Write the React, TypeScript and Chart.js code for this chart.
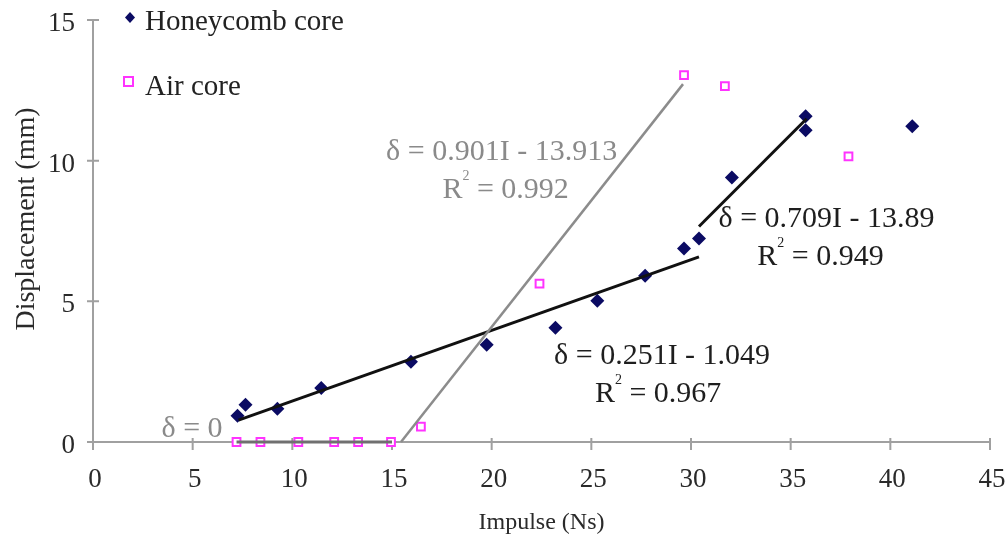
import React, { useEffect, useRef } from "react";
import { Chart, registerables } from "chart.js";

Chart.register(...registerables);

// ---- data ----
const xTickValues = [0, 5, 10, 15, 20, 25, 30, 35, 40, 45];
const yTickValues = [0, 5, 10, 15];

const honeycombImpulse = [7.25, 7.65, 9.25, 11.45, 15.95, 19.75, 23.2, 25.3, 27.7, 29.65, 30.4, 32.05, 35.75, 35.75, 41.1];
const honeycombDisp = [0.93, 1.32, 1.18, 1.92, 2.85, 3.46, 4.06, 5.02, 5.91, 6.88, 7.23, 9.4, 11.58, 11.08, 11.22];

const airImpulse = [7.2, 8.4, 10.3, 12.1, 13.3, 14.95, 16.45, 22.4, 29.65, 31.7, 37.9];
const airDisp = [0, 0, 0, 0, 0, 0, 0.55, 5.63, 13.04, 12.65, 10.15];

const fitAirImpulse = [15.45, 29.6];
const fitAirDisp = [0, 12.72];
const fitZeroImpulse = [7.2, 15.0];
const fitZeroDisp = [0, 0];
const fitHoney1Impulse = [7.3, 30.4];
const fitHoney1Disp = [0.78, 6.58];
const fitHoney2Impulse = [30.4, 35.8];
const fitHoney2Disp = [7.66, 11.49];

const seriesNames = ["Honeycomb core", "Air core"];
const xTitle = "Impulse (Ns)";
const yTitle = "Displacement (mm)";

const FONT = '"Liberation Serif", "Times New Roman", serif';
const NAVY = "#0b0b63";
const MAGENTA = "#ff33ff";
const GRAY_TEXT = "#8a8a8a";
const DARK_TEXT = "#1e1e1e";

const pts = (xs: number[], ys: number[]) => xs.map((x, i) => ({ x, y: ys[i] }));

const annotations = [
  { eq: "δ = 0.901I - 13.913", r2: "0.992", ex: 20.5, ey: 10.3, rx: 20.7, ry: 8.94, color: GRAY_TEXT },
  { eq: "δ = 0.709I - 13.89", r2: "0.949", ex: 36.8, ey: 7.92, rx: 36.5, ry: 6.56, color: DARK_TEXT },
  { eq: "δ = 0.251I - 1.049", r2: "0.967", ex: 28.55, ey: 3.06, rx: 28.35, ry: 1.71, color: DARK_TEXT },
];

const customPlugin = {
  id: "customAxes",
  beforeDatasetsDraw(chart: any) {
    const { ctx, scales } = chart;
    const xs = scales.x;
    const ys = scales.y;
    const x0 = xs.getPixelForValue(xTickValues[0]);
    const x1 = xs.getPixelForValue(xTickValues[xTickValues.length - 1]);
    const y0 = ys.getPixelForValue(yTickValues[0]);
    const y1 = ys.getPixelForValue(yTickValues[yTickValues.length - 1]);
    ctx.save();
    ctx.strokeStyle = "#a0a0a0";
    ctx.lineWidth = 2;
    ctx.beginPath();
    ctx.moveTo(x0, y1);
    ctx.lineTo(x0, y0);
    ctx.moveTo(x0, y0);
    ctx.lineTo(x1, y0);
    yTickValues.forEach((v) => {
      const py = ys.getPixelForValue(v);
      ctx.moveTo(x0 - 6, py);
      ctx.lineTo(x0 + 6, py);
    });
    xTickValues.forEach((v) => {
      const px = xs.getPixelForValue(v);
      ctx.moveTo(px, y0 - 4);
      ctx.lineTo(px, y0 + 8);
    });
    ctx.stroke();

    ctx.fillStyle = "#2a2a2a";
    ctx.font = `27px ${FONT}`;
    ctx.textBaseline = "middle";
    ctx.textAlign = "right";
    yTickValues.forEach((v) => {
      ctx.fillText(String(v), x0 - 18, ys.getPixelForValue(v) + 4);
    });
    ctx.textAlign = "center";
    xTickValues.forEach((v) => {
      ctx.fillText(String(v), xs.getPixelForValue(v) + 2, y0 + 38);
    });

    ctx.font = `24px ${FONT}`;
    ctx.fillText(xTitle, (x0 + x1) / 2, y0 + 81);
    ctx.save();
    ctx.font = `28px ${FONT}`;
    ctx.translate(27, 219);
    ctx.rotate(-Math.PI / 2);
    ctx.fillText(yTitle, 0, 0);
    ctx.restore();
    ctx.restore();
  },
  afterDraw(chart: any) {
    const { ctx, scales } = chart;
    const xs = scales.x;
    const ys = scales.y;
    const big = `30px ${FONT}`;
    const sup = `14px ${FONT}`;
    ctx.save();
    ctx.textBaseline = "middle";
    ctx.textAlign = "center";
    annotations.forEach((a) => {
      ctx.fillStyle = a.color;
      ctx.font = big;
      ctx.fillText(a.eq, xs.getPixelForValue(a.ex), ys.getPixelForValue(a.ey));
      const rx = xs.getPixelForValue(a.rx);
      const ry = ys.getPixelForValue(a.ry);
      const main = "R";
      const rest = " = " + a.r2;
      const wR = ctx.measureText(main).width;
      const wRest = ctx.measureText(rest).width;
      ctx.font = sup;
      const wSup = ctx.measureText("2").width;
      const total = wR + wSup + wRest;
      const left = rx - total / 2;
      ctx.textAlign = "left";
      ctx.font = big;
      ctx.fillText(main, left, ry);
      ctx.fillText(rest, left + wR + wSup, ry);
      ctx.font = sup;
      ctx.fillText("2", left + wR, ry - 14);
      ctx.textAlign = "center";
    });
    ctx.fillStyle = GRAY_TEXT;
    ctx.font = big;
    ctx.fillText("δ = 0", xs.getPixelForValue(4.97), ys.getPixelForValue(0.46));

    // legend
    ctx.textAlign = "left";
    ctx.fillStyle = "#222";
    ctx.font = `29px ${FONT}`;
    ctx.fillText(seriesNames[0], 145, 22);
    ctx.fillText(seriesNames[1], 145, 87);
    ctx.fillStyle = NAVY;
    ctx.beginPath();
    ctx.moveTo(130, 12);
    ctx.lineTo(135, 17.5);
    ctx.lineTo(130, 23);
    ctx.lineTo(125, 17.5);
    ctx.closePath();
    ctx.fill();
    ctx.strokeStyle = MAGENTA;
    ctx.lineWidth = 2;
    ctx.fillStyle = "#fff";
    ctx.fillRect(124, 77, 9, 9);
    ctx.strokeRect(124, 77, 9, 9);
    ctx.restore();
  },
};

export default function App() {
  const ref = useRef<HTMLCanvasElement | null>(null);
  useEffect(() => {
    document.body.style.margin = "0";
    const canvas = ref.current;
    if (!canvas) return;
    const chart = new Chart(canvas, {
      type: "scatter",
      data: {
        datasets: [
          {
            label: "fit air",
            data: pts(fitAirImpulse, fitAirDisp),
            showLine: true,
            borderColor: "#8c8c8c",
            borderWidth: 2.5,
            pointRadius: 0,
            clip: false,
          } as any,
          {
            label: "fit zero",
            data: pts(fitZeroImpulse, fitZeroDisp),
            showLine: true,
            borderColor: "#707070",
            borderWidth: 3,
            pointRadius: 0,
            clip: false,
          } as any,
          {
            label: "fit honey 1",
            data: pts(fitHoney1Impulse, fitHoney1Disp),
            showLine: true,
            borderColor: "#111",
            borderWidth: 3,
            pointRadius: 0,
            clip: false,
          } as any,
          {
            label: "fit honey 2",
            data: pts(fitHoney2Impulse, fitHoney2Disp),
            showLine: true,
            borderColor: "#111",
            borderWidth: 3,
            pointRadius: 0,
            clip: false,
          } as any,
          {
            label: seriesNames[0],
            data: pts(honeycombImpulse, honeycombDisp),
            pointStyle: "rectRot",
            pointRadius: 7,
            backgroundColor: NAVY,
            borderColor: NAVY,
            borderWidth: 0,
            clip: false,
          } as any,
          {
            label: seriesNames[1],
            data: pts(airImpulse, airDisp),
            pointStyle: "rect",
            pointRadius: 5.5,
            backgroundColor: "#ffffff",
            borderColor: MAGENTA,
            borderWidth: 2,
            clip: false,
          } as any,
        ],
      },
      options: {
        responsive: false,
        animation: false,
        devicePixelRatio: 1,
        layout: { padding: { left: 93, right: 18, top: 20, bottom: 98 } },
        plugins: { legend: { display: false }, tooltip: { enabled: false } },
        scales: {
          x: { type: "linear", min: 0, max: 45, display: false },
          y: { type: "linear", min: 0, max: 15, display: false },
        },
      },
      plugins: [customPlugin],
    });
    return () => chart.destroy();
  }, []);
  return <canvas ref={ref} width={1008} height={540} style={{ display: "block", width: 1008, height: 540 }} />;
}
